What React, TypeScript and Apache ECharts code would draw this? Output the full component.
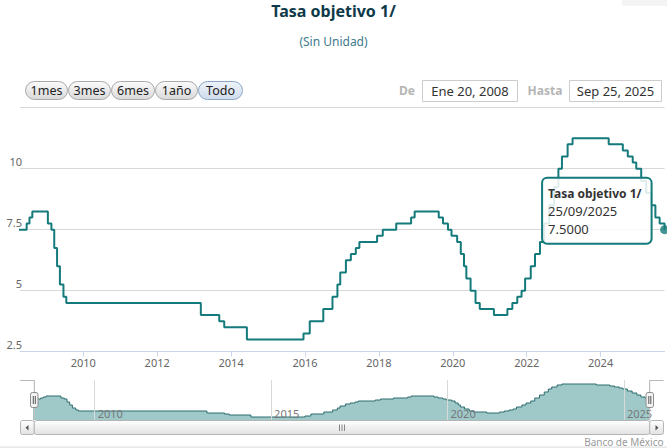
import React, { useEffect, useRef } from "react";
import * as echarts from "echarts";

// ---- data (Banxico target rate decisions) ----
const dates: string[] = [
  "2008-01-21", "2008-06-20", "2008-07-18", "2008-08-15",
  "2009-01-16", "2009-02-20", "2009-03-20", "2009-04-17", "2009-05-15", "2009-06-19", "2009-07-17",
  "2013-03-08", "2013-09-06", "2013-10-25", "2014-06-06",
  "2015-12-17", "2016-02-17", "2016-06-30", "2016-09-29", "2016-11-17", "2016-12-15",
  "2017-02-09", "2017-03-30", "2017-05-18", "2017-06-22", "2017-12-14",
  "2018-02-08", "2018-06-21", "2018-11-15", "2018-12-20",
  "2019-08-15", "2019-09-26", "2019-11-14", "2019-12-19",
  "2020-02-13", "2020-03-20", "2020-04-21", "2020-05-14", "2020-06-25", "2020-08-13", "2020-09-24",
  "2021-02-11", "2021-06-24", "2021-08-12", "2021-09-30", "2021-11-11", "2021-12-16",
  "2022-02-10", "2022-03-24", "2022-05-12", "2022-06-23", "2022-08-11", "2022-09-29", "2022-11-10", "2022-12-15",
  "2023-02-09", "2023-03-30",
  "2024-03-21", "2024-08-08", "2024-09-26", "2024-11-14", "2024-12-19",
  "2025-02-06", "2025-03-27", "2025-05-15", "2025-06-26", "2025-08-07", "2025-09-25",
];
const values: number[] = [
  7.5, 7.75, 8.0, 8.25,
  7.75, 7.5, 6.75, 6.0, 5.25, 4.75, 4.5,
  4.0, 3.75, 3.5, 3.0,
  3.25, 3.75, 4.25, 4.75, 5.25, 5.75,
  6.25, 6.5, 6.75, 7.0, 7.25,
  7.5, 7.75, 8.0, 8.25,
  8.0, 7.75, 7.5, 7.25,
  7.0, 6.5, 6.0, 5.5, 5.0, 4.5, 4.25,
  4.0, 4.25, 4.5, 4.75, 5.0, 5.5,
  6.0, 6.5, 7.0, 7.75, 8.5, 9.25, 10.0, 10.5,
  11.0, 11.25,
  11.0, 10.75, 10.5, 10.25, 10.0,
  9.5, 9.0, 8.5, 8.0, 7.75, 7.5,
];
const seriesName = "Tasa objetivo 1/";
const subtitle = "(Sin Unidad)";
const rangeButtons: string[] = ["1mes", "3mes", "6mes", "1año", "Todo"];
const fromLabel = "Ene 20, 2008";
const toLabel = "Sep 25, 2025";
const credit = "Banco de México";

const TEAL = "#157a7b";
const FONT = '"Noto Sans", "Open Sans", sans-serif';

function toYear(s: string): number {
  const [y, m, d] = s.split("-").map(Number);
  const a = Date.UTC(y, 0, 1);
  const b = Date.UTC(y + 1, 0, 1);
  return y + (Date.UTC(y, m - 1, d) - a) / (b - a);
}
function fmtDate(s: string): string {
  const [y, m, d] = s.split("-");
  return `${d}/${m}/${y}`;
}

export default function App() {
  const ref = useRef<HTMLDivElement>(null);
  useEffect(() => {
    if (!ref.current) return;
    const chart = echarts.init(ref.current, null, { renderer: "svg" });
    const data = dates.map((d, i) => [toYear(d), values[i]]);
    const last = data[data.length - 1];
    const xMin = 2008.287;
    const xMax = toYear(dates[dates.length - 1]);

    chart.setOption({
      animation: false,
      textStyle: { fontFamily: FONT },
      grid: [
        { left: 20, right: 2.4, top: 107.7, bottom: 96.3 },
        { left: 34.3, right: 17.3, top: 380, bottom: 28 },
      ],
      xAxis: [
        {
          type: "value", gridIndex: 0, min: xMin, max: xMax,
          minInterval: 2, maxInterval: 2, splitNumber: 9,
          axisLine: { show: true, lineStyle: { color: "#ccd6eb", width: 1 } },
          axisTick: { show: true, length: 5, lineStyle: { color: "#ccd6eb" } },
          splitLine: { show: false },
          axisLabel: {
            color: "#666", fontSize: 11, margin: 5, fontFamily: FONT,
            showMinLabel: false, showMaxLabel: false,
            formatter: (v: number) => String(Math.round(v)),
          },
        },
        {
          type: "value", gridIndex: 1, min: xMin, max: xMax, z: 5,
          minInterval: 5, maxInterval: 5, splitNumber: 4,
          axisLine: { show: false },
          axisTick: { show: false },
          splitLine: { show: true, lineStyle: { color: "#d9d9d9", width: 1 } },
          axisLabel: {
            inside: true, color: "#777", fontSize: 11, margin: 1.5, fontFamily: FONT,
            align: "left", padding: [0, 0, 0, 3], verticalAlign: "bottom",
            showMinLabel: false, showMaxLabel: false,
            formatter: (v: number) => String(Math.round(v)),
          },
        },
      ],
      yAxis: [
        {
          type: "value", gridIndex: 0, min: 2.5, max: 12.5, interval: 2.5,
          axisLine: { show: false }, axisTick: { show: false },
          splitLine: { show: true, lineStyle: { color: "#d8d8d8", width: 1 } },
          axisLabel: {
            color: "#666", fontSize: 11, margin: -2, fontFamily: FONT,
            verticalAlign: "bottom", padding: [0, 0, 2, 0],
            showMaxLabel: false,
          },
        },
        {
          type: "value", gridIndex: 1, min: 2.25, max: 12.25, show: false,
          splitLine: { show: false },
        },
      ],
      series: [
        {
          name: seriesName, type: "line", step: "end", data,
          xAxisIndex: 0, yAxisIndex: 0, showSymbol: false, symbol: "none",
          lineStyle: { color: TEAL, width: 2 }, z: 3,
        },
        {
          type: "scatter", data: [last], xAxisIndex: 0, yAxisIndex: 0,
          symbolSize: 9, itemStyle: { color: TEAL }, clip: false, z: 4,
        },
        {
          type: "line", step: "end", data, xAxisIndex: 1, yAxisIndex: 1,
          showSymbol: false, symbol: "none", z: 2,
          lineStyle: { color: "#2f6d6e", width: 1 },
          areaStyle: { color: "#9fc9c9", opacity: 1, origin: "start" },
        },
      ],
    });

    const p = chart.convertToPixel({ xAxisIndex: 0, yAxisIndex: 0 }, last) as number[];
    const px = p[0], py = p[1];

    const txt = (x: number, y: number, text: string, font: string, fill: string, align = "left", z = 10) => ({
      type: "text", x, y, z,
      style: { text, font, fill, align, verticalAlign: "middle", textAlign: align, textVerticalAlign: "middle" },
    });

    const g: any[] = [];
    // title
    g.push(txt(333.5, 11, seriesName, `bold 16px ${FONT}`, "#0e3949", "center"));
    g.push(txt(333.5, 41, subtitle, `12px ${FONT}`, "#3f7a8e", "center"));
    // faint top-right export button
    g.push({ type: "rect", shape: { x: 622, y: -6, width: 50, height: 12, r: 3 }, style: { fill: "#f4f4f4" } });

    // range selector buttons
    const bx = [25, 68, 111, 155, 198];
    const bw = [42, 42, 43, 42, 44];
    rangeButtons.forEach((b, i) => {
      const sel = i === rangeButtons.length - 1;
      g.push({
        type: "rect", z: 10,
        shape: { x: bx[i] + 0.5, y: 81.5, width: bw[i], height: 18, r: 9 },
        style: {
          fill: new echarts.graphic.LinearGradient(0, 0, 0, 1, sel
            ? [{ offset: 0, color: "#eef3fa" }, { offset: 1, color: "#cfdcec" }]
            : [{ offset: 0, color: "#fbfbfb" }, { offset: 1, color: "#d9d9d9" }]),
          stroke: sel ? "#8ba7c7" : "#a9a9a9", lineWidth: 1,
        },
      });
      g.push(txt(bx[i] + bw[i] / 2 + 0.5, 90.5, b, `12.5px ${FONT}`, "#222", "center", 11));
    });

    // date inputs
    g.push(txt(407, 90.5, "De", `bold 12px ${FONT}`, "#b5b5b5", "center"));
    g.push({ type: "rect", z: 10, shape: { x: 422.5, y: 80.5, width: 95, height: 21 }, style: { fill: "#fff", stroke: "#cccccc", lineWidth: 1 } });
    g.push(txt(470, 91, fromLabel, `13px ${FONT}`, "#333", "center", 11));
    g.push(txt(545, 90.5, "Hasta", `bold 12px ${FONT}`, "#b5b5b5", "center"));
    g.push({ type: "rect", z: 10, shape: { x: 569.5, y: 80.5, width: 92, height: 21 }, style: { fill: "#fff", stroke: "#cccccc", lineWidth: 1 } });
    g.push(txt(615.5, 91, toLabel, `13px ${FONT}`, "#333", "center", 11));

    // navigator outline
    g.push({ type: "polyline", z: 10, shape: { points: [[20, 380.5], [34.3, 380.5], [34.3, 420]] }, style: { stroke: "#b8b8b8", lineWidth: 1, fill: null } });
    g.push({ type: "polyline", z: 10, shape: { points: [[649.7, 420], [649.7, 380.5], [663.5, 380.5]] }, style: { stroke: "#b8b8b8", lineWidth: 1, fill: null } });
    // handles
    [30.5, 646].forEach((hx) => {
      g.push({ type: "rect", z: 12, shape: { x: hx, y: 392.5, width: 7.5, height: 15, r: 2 }, style: { fill: "#f2f2f2", stroke: "#8c8c8c", lineWidth: 1 } });
      g.push({ type: "line", z: 13, shape: { x1: hx + 2.8, y1: 396, x2: hx + 2.8, y2: 404 }, style: { stroke: "#555", lineWidth: 1 } });
      g.push({ type: "line", z: 13, shape: { x1: hx + 4.8, y1: 396, x2: hx + 4.8, y2: 404 }, style: { stroke: "#555", lineWidth: 1 } });
    });
    // scrollbar
    const sbGrad = () => new echarts.graphic.LinearGradient(0, 0, 0, 1, [
      { offset: 0, color: "#ffffff" }, { offset: 1, color: "#e2e2e2" },
    ]);
    g.push({ type: "rect", z: 10, shape: { x: 20.5, y: 420.5, width: 13.8, height: 14, r: 2 }, style: { fill: sbGrad(), stroke: "#b5b5b5", lineWidth: 1 } });
    g.push({ type: "rect", z: 10, shape: { x: 34.3, y: 420.5, width: 615.4, height: 14, r: 2 }, style: { fill: sbGrad(), stroke: "#b5b5b5", lineWidth: 1 } });
    g.push({ type: "rect", z: 10, shape: { x: 649.7, y: 420.5, width: 13.8, height: 14, r: 2 }, style: { fill: sbGrad(), stroke: "#b5b5b5", lineWidth: 1 } });
    g.push({ type: "polygon", z: 11, shape: { points: [[28.5, 425], [28.5, 430.5], [25.5, 427.75]] }, style: { fill: "#555" } });
    g.push({ type: "polygon", z: 11, shape: { points: [[655.5, 425], [655.5, 430.5], [658.5, 427.75]] }, style: { fill: "#555" } });
    [339.5, 342, 344.5].forEach((lx) => {
      g.push({ type: "line", z: 11, shape: { x1: lx, y1: 424.5, x2: lx, y2: 431 }, style: { stroke: "#888", lineWidth: 1 } });
    });
    // credit + bottom line
    g.push(txt(663.5, 442, credit, `10px ${FONT}`, "#999", "right"));
    g.push({ type: "rect", z: 1, shape: { x: 0, y: 446.5, width: 667, height: 1.2 }, style: { fill: "#e2e2e2" } });

    // tooltip
    const tx = px - 122.5, ty = py - 52;
    g.push({ type: "rect", z: 20, shape: { x: tx, y: ty, width: 109.5, height: 66, r: 5 }, style: { fill: "rgba(255,255,255,0.86)", stroke: TEAL, lineWidth: 2 } });
    g.push(txt(tx + 6, py - 36.5, seriesName, `bold 12px ${FONT}`, "#333", "left", 21));
    g.push(txt(tx + 6, py - 18.3, fmtDate(dates[dates.length - 1]), `13px ${FONT}`, "#333", "left", 21));
    g.push(txt(tx + 6, py - 0.5, last[1].toFixed(4), `13px ${FONT}`, "#333", "left", 21));

    chart.setOption({ graphic: g });
    return () => chart.dispose();
  }, []);
  return (
    <div
      ref={ref}
      style={{ position: "fixed", left: 0, top: 0, width: 667, height: 448, background: "#fff" }}
    />
  );
}
